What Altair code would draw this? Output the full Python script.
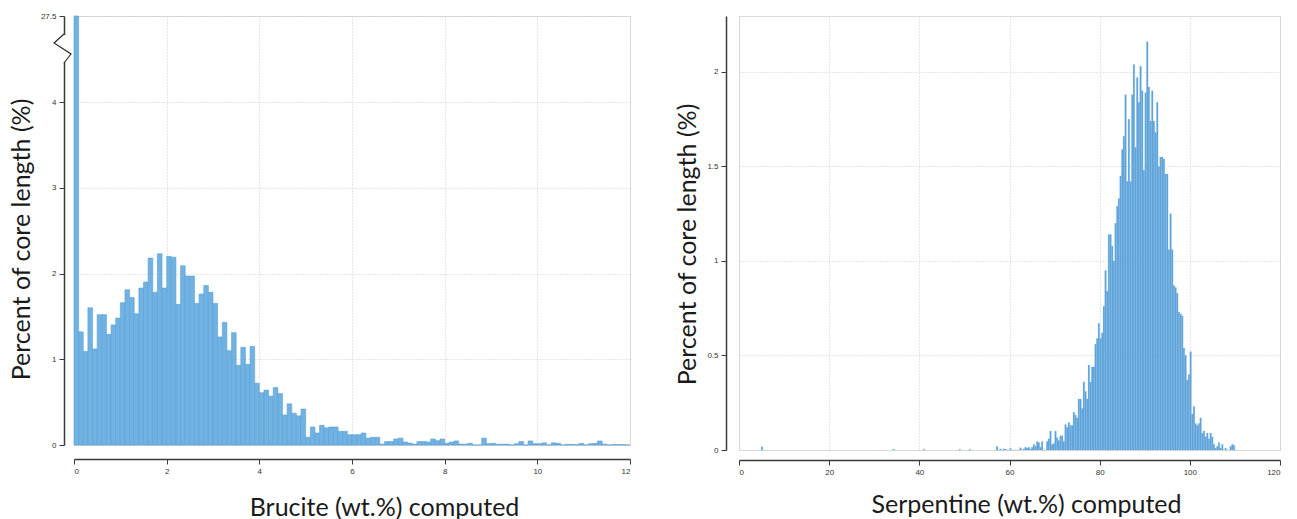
import altair as alt
import pandas as pd

# ---------------- data ----------------
# Brucite histogram: bins of 0.1 wt.% from 0 to 12, percent of core length
brucite_bin_width = 0.1
brucite_pct = [
    27.5, 1.32, 1.09, 1.60, 1.12, 1.52, 1.52, 1.29, 1.40, 1.48,
    1.66, 1.81, 1.72, 1.53, 1.83, 1.90, 2.18, 1.78, 2.23, 1.83,
    2.20, 2.19, 1.64, 2.09, 1.97, 1.97, 1.65, 1.76, 1.86, 1.78,
    1.65, 1.26, 1.43, 1.10, 1.31, 0.93, 1.14, 0.94, 1.15, 0.72,
    0.61, 0.64, 0.57, 0.67, 0.60, 0.35, 0.48, 0.37, 0.34, 0.42,
    0.09, 0.21, 0.14, 0.23, 0.20, 0.21, 0.21, 0.16, 0.16, 0.12,
    0.12, 0.12, 0.14, 0.08, 0.09, 0.09, 0.01, 0.04, 0.04, 0.07,
    0.08, 0.035, 0.023, 0.01, 0.04, 0.04, 0.035, 0.07, 0.05, 0.07,
    0.02, 0.035, 0.047, 0.01, 0.01, 0.02, 0.0, 0.0, 0.08, 0.015,
    0.02, 0.01, 0.01, 0.01, 0.0, 0.015, 0.04, 0.0, 0.047, 0.015,
    0.015, 0.025, 0.0, 0.025, 0.02, 0.0, 0.008, 0.008, 0.003, 0.018,
    0.0, 0.015, 0.018, 0.047, 0.01, 0.0, 0.005, 0.005, 0.005, 0.0,
]
brucite_y_ticks = [0, 1, 2, 3, 4, 27.5]
brucite_x_ticks = [0, 2, 4, 6, 8, 10, 12]

# Serpentine histogram: isolated low values + a dense run of bins (0.37 wt.% wide)
serp_bin_width = 0.37
serp_isolated_start = [4.9, 34.1, 40.8, 48.8, 51.0]
serp_isolated_pct = [0.017, 0.005, 0.005, 0.004, 0.004]
serp_dense_start = 56.7
serp_dense_pct = [
    # 56.7 - 64.1
    0.0, 0.02, 0.0, 0.006, 0.0, 0.006, 0.005, 0.0, 0.0, 0.008,
    0.0, 0.0, 0.0, 0.0, 0.0, 0.012, 0.0, 0.006, 0.015, 0.01,
    # 64.1 - 81.85
    0.015, 0.005, 0.015, 0.03, 0.02, 0.045, 0.04, 0.015, 0.045, 0.0,
    0.0, 0.045, 0.06, 0.10, 0.03, 0.035, 0.10, 0.065, 0.05, 0.075,
    0.075, 0.045, 0.135, 0.12, 0.145, 0.13, 0.13, 0.20, 0.185, 0.17,
    0.27, 0.27, 0.22, 0.36, 0.31, 0.27, 0.45, 0.36, 0.44, 0.44,
    0.56, 0.59, 0.67, 0.59, 0.62, 0.76, 0.95, 0.84,
    # 81.85 - 105.9
    1.14, 1.14, 1.08, 1.00, 1.20, 1.29, 1.33, 1.45, 1.59, 1.66,
    1.88, 1.42, 1.75, 1.42, 1.88, 2.04, 1.60, 1.97, 1.84, 2.03,
    1.90, 1.48, 1.89, 2.16, 1.92, 1.74, 1.90, 1.74, 1.68, 1.84,
    1.50, 1.55, 1.55, 1.54, 1.46, 1.46, 1.06, 1.25, 1.06, 0.87,
    0.86, 0.83, 0.73, 0.72, 0.71, 0.54, 0.50, 0.37, 0.40, 0.52,
    0.19, 0.23, 0.14, 0.13, 0.14, 0.17, 0.09, 0.10, 0.07, 0.09,
    0.06, 0.09, 0.07, 0.03, 0.01,
    # 105.9 - 110.3
    0.02, 0.04, 0.01, 0.03, 0.0, 0.01, 0.0, 0.0, 0.02, 0.03,
    0.025, 0.0,
]
serp_y_ticks = [0, 0.5, 1, 1.5, 2]
serp_x_ticks = [0, 20, 40, 60, 80, 100, 120]

y_title = "Percent of core length (%)"
brucite_title = "Brucite (wt.%) computed"
serp_title = "Serpentine (wt.%) computed"

# ---------------- tables ----------------
bru_df = pd.DataFrame({
    "x0": [i * brucite_bin_width for i in range(len(brucite_pct))],
    "x1": [(i + 1) * brucite_bin_width for i in range(len(brucite_pct))],
    "pct": brucite_pct,
    "base": [0.0] * len(brucite_pct),
})

serp_x0 = list(serp_isolated_start) + [serp_dense_start + i * serp_bin_width for i in range(len(serp_dense_pct))]
serp_df = pd.DataFrame({
    "x0": serp_x0,
    "x1": [v + serp_bin_width for v in serp_x0],
    "pct": list(serp_isolated_pct) + list(serp_dense_pct),
    "base": [0.0] * len(serp_x0),
})

# ---------------- styling ----------------
TITLE_FONT = "Lato"
LABEL_FONT = "Liberation Sans"
GRID = dict(grid=True, gridColor="#cccccc", gridDash=[1, 2], gridWidth=1)
AX = dict(domainColor="#3a3a3a", domainWidth=1.5, tickColor="#3a3a3a", tickSize=5,
          labelFont=LABEL_FONT, labelFontSize=8, labelColor="#333333",
          labelExpr="'' + datum.value",
          titleFont=TITLE_FONT, titleFontSize=25, titleFontWeight="normal",
          titleColor="#1a1a1a", zindex=0)

LW, LH = 556, 429
RW, RH = 541, 434

# ---------------- left chart ----------------
bru_bars = alt.Chart(bru_df).mark_rect(
    color="#70b3e3", stroke="#5a9fd5", strokeWidth=0.6
).encode(
    x=alt.X("x0:Q",
            scale=alt.Scale(domain=[0, 12], nice=False, zero=False),
            axis=alt.Axis(values=brucite_x_ticks, title=brucite_title, offset=14,
                          titlePadding=20, labelPadding=3, titleX=310, titleAlign="center",
                          **GRID, **AX)),
    x2="x1:Q",
    y=alt.Y("pct:Q",
            scale=alt.Scale(domain=[0, 4, 27.5], range=[LH, LH - 343, 0], nice=False, zero=False),
            axis=alt.Axis(values=brucite_y_ticks, title=y_title, offset=10, titleY=223,
                          titlePadding=6, labelPadding=3, **GRID, **AX)),
    y2="base:Q",
)

# white gap in the y axis line plus zig-zag break symbol
axis_gap = alt.Chart(bru_df).mark_rule(color="white", strokeWidth=4).encode(
    x=alt.value(-10), y=alt.value(19), y2=alt.value(46)
)
break_df = pd.DataFrame({"i": [0, 1, 2, 3], "px": [-10, -20, -3, -10], "py": [18, 27, 38, 47]})
break_line = alt.Chart(break_df).mark_line(color="#222222", strokeWidth=1.1).encode(
    x=alt.X("px:Q", scale=None, axis=None),
    y=alt.Y("py:Q", scale=None, axis=None),
    order="i:O",
)

left = alt.layer(bru_bars, axis_gap, break_line).resolve_scale(
    x="independent", y="independent"
).properties(width=LW, height=LH)

# ---------------- right chart ----------------
serp_bars = alt.Chart(serp_df).mark_rect(
    color="#5ba2d9", stroke="#86bae4", strokeWidth=0.2
).encode(
    x=alt.X("x0:Q",
            scale=alt.Scale(domain=[0, 120], nice=False, zero=False),
            axis=alt.Axis(values=serp_x_ticks, title=serp_title, offset=10,
                          titlePadding=16, labelPadding=3, titleX=287, titleAlign="center",
                          **GRID, **AX)),
    x2="x1:Q",
    y=alt.Y("pct:Q",
            scale=alt.Scale(domain=[0, 2.296], nice=False, zero=True),
            axis=alt.Axis(values=serp_y_ticks, title=y_title, offset=13, titleY=228,
                          titlePadding=6, labelPadding=3, **GRID, **AX)),
    y2="base:Q",
).properties(width=RW, height=RH)

chart = alt.hconcat(left, serp_bars, spacing=44).properties(
    padding={"left": 8, "top": 11, "right": 5, "bottom": 5}
).configure_view(stroke=None).configure(background="white")

chart.save("out.html", embed_options={"renderer": "svg", "actions": False})
